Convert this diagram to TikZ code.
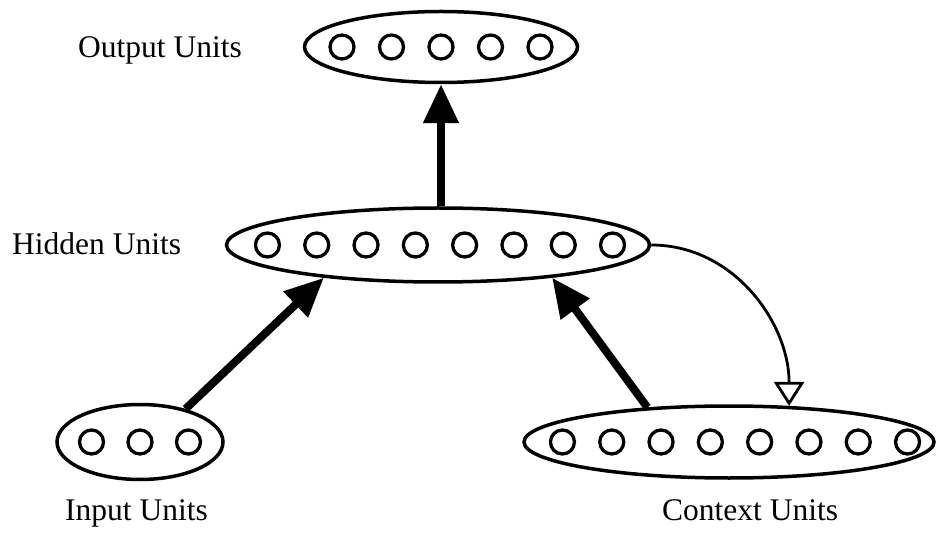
\documentclass[tikz,border=0pt]{standalone}
\usepackage{fontspec}
\setmainfont{Liberation Serif}
\usetikzlibrary{shapes.geometric,arrows.meta}
\begin{document}
\begin{tikzpicture}[x=1pt,y=1pt,
  layer/.style={draw,ellipse,line width=3.5pt,inner sep=0pt},
  layername/.style={anchor=base west,inner sep=0pt,font=\fontsize{31.5}{36}\selectfont},
  unit/.style={line width=3.3pt},
  feed/.style={line width=8pt,-{Triangle[length=39pt,width=34pt]}},
  copyback/.style={line width=2.8pt,-{Triangle[open,length=24pt,width=30pt,line width=2.8pt]}}]
\useasboundingbox(0,0)rectangle(936,533);
\node[layer,minimum width=273pt,minimum height=71pt](output)at(441,486){};
\node[layer,minimum width=423pt,minimum height=74pt](hidden)at(438,288){};
\node[layer,minimum width=166pt,minimum height=75pt](input)at(140,91){};
\node[layer,minimum width=410pt,minimum height=72pt](context)at(729,91){};
\foreach \i in {0,...,4}
  \draw[unit](output.center)++({(\i-2)*49.5},0)circle[radius=12];
\foreach \i in {0,...,7}
  \draw[unit](hidden.center)++({2+(\i-3.5)*49.3},0)circle[radius=12];
\foreach \i in {0,...,2}
  \draw[unit](input.center)++({(\i-1)*48.5},0)circle[radius=12];
\foreach \i in {0,...,7}
  \draw[unit](context.center)++({6+(\i-3.5)*49.3},0)circle[radius=12];
\node[layername](outname)at(78,475){Output Units};
\node[layername](hidname)at(12,278){Hidden Units};
\node[layername](inname)at(65,13){Input Units};
\node[layername](ctxname)at(662,13){Context Units};
\draw[feed](hidden.north -| output.south)--(output.south);
\draw[feed](input.36)--(hidden.196);
\draw[feed](context.157)--(hidden.344);
\draw[copyback](hidden.east)to[out=0,in=90](context.31);
\end{tikzpicture}
\end{document}
